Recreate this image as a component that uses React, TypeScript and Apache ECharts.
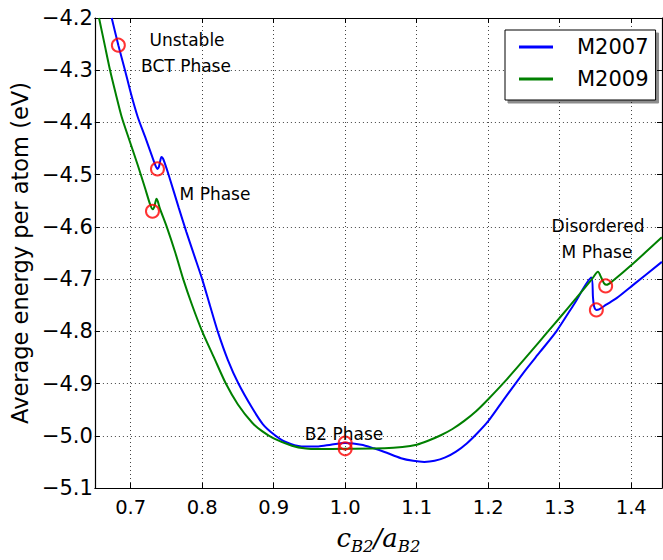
import React, { useEffect, useRef } from "react";
import * as echarts from "echarts";

// c/a ratio vs. average energy per atom (eV)
const m2007: [number, number][] = [
  [0.6735, -4.2], [0.6828, -4.252], [0.6921, -4.3], [0.7005, -4.345], [0.7098, -4.389],
  [0.7209, -4.43], [0.7326, -4.475], [0.7355, -4.485], [0.7375, -4.489], [0.7395, -4.485],
  [0.7413, -4.474], [0.743, -4.466], [0.7452, -4.469], [0.7477, -4.478], [0.7535, -4.502],
  [0.7674, -4.564], [0.778, -4.61], [0.789, -4.655], [0.8, -4.7], [0.8108, -4.75],
  [0.8217, -4.8], [0.836, -4.855], [0.8507, -4.9], [0.87, -4.947], [0.885, -4.978],
  [0.9, -4.997], [0.916, -5.0115], [0.939, -5.0205], [0.9625, -5.0205], [0.98, -5.017],
  [1.0, -5.014], [1.0227, -5.017], [1.04, -5.024], [1.055, -5.031], [1.078, -5.043],
  [1.095, -5.048], [1.1106, -5.05], [1.125, -5.048], [1.14, -5.0414], [1.155, -5.0303],
  [1.17, -5.0147], [1.185, -4.9947], [1.2, -4.972], [1.22, -4.934], [1.25, -4.878],
  [1.2721, -4.84], [1.2953, -4.8], [1.32, -4.748], [1.3442, -4.697], [1.3465, -4.735],
  [1.348, -4.752], [1.3512, -4.759], [1.355, -4.758], [1.365, -4.749], [1.38, -4.736],
  [1.4023, -4.7115], [1.4428, -4.667],
];

const m2009: [number, number][] = [
  [0.6558, -4.2], [0.6635, -4.25], [0.6712, -4.3], [0.679, -4.344], [0.6874, -4.389],
  [0.6985, -4.435], [0.71, -4.482], [0.72, -4.525], [0.727, -4.556], [0.7306, -4.566],
  [0.733, -4.562], [0.7361, -4.546], [0.738, -4.551], [0.7407, -4.564], [0.7505, -4.6],
  [0.7626, -4.65], [0.7735, -4.7], [0.786, -4.75], [0.8, -4.8], [0.8165, -4.85],
  [0.8331, -4.9], [0.85, -4.94], [0.87, -4.975], [0.8838, -4.991], [0.9, -5.005],
  [0.9255, -5.019], [0.945, -5.0245], [0.9625, -5.0255], [1.0, -5.025], [1.055, -5.024],
  [1.08, -5.0215], [1.1, -5.017], [1.115, -5.01], [1.1337, -4.999], [1.15, -4.987],
  [1.166, -4.972], [1.183, -4.953], [1.2, -4.93], [1.226, -4.892], [1.259, -4.84],
  [1.2842, -4.799], [1.3, -4.774], [1.3233, -4.736], [1.345, -4.7], [1.3535, -4.686],
  [1.358, -4.697], [1.362, -4.708], [1.3655, -4.711], [1.3744, -4.703], [1.4023, -4.6706],
  [1.4428, -4.62],
];

const m2007Phases: [number, number][] = [[0.6828, -4.252], [0.7375, -4.489], [1.0, -5.014], [1.3512, -4.759]];
const m2009Phases: [number, number][] = [[0.7305, -4.57], [1.0, -5.025], [1.3642, -4.713]];

const seriesNames = ["M2007", "M2009"];
const seriesColors = ["#0000ff", "#008000"];

const xMin = 0.65;
const xMax = 1.443;
const yMin = -5.1;
const yMax = -4.2;

const FONT = "DejaVu Sans";

const xLabel = (v: number) => {
  const r = Math.round(v * 10) / 10;
  if (Math.abs(v - r) > 1e-6) return "";
  return r.toFixed(1);
};
const yLabel = (v: number) => v.toFixed(1).replace("-", "\u2212");

export default function App() {
  const ref = useRef<HTMLDivElement>(null);
  useEffect(() => {
    if (!ref.current) return;
    const chart = echarts.init(ref.current, undefined, { renderer: "svg" });
    const tick = { show: true, inside: true, length: 5, lineStyle: { color: "#000", width: 1 } };
    const grid = { show: true, lineStyle: { color: "#444", width: 1, type: [1, 3] as any } };
    const axisLine = { show: true, onZero: false, lineStyle: { color: "#000", width: 1.2 } };
    const text = (t: string, x: number, y: number) => ({
      type: "text",
      x,
      y,
      style: { text: t, fontSize: 17, fontFamily: FONT, fill: "#000", align: "center", verticalAlign: "middle" },
      z: 100,
    });
    chart.setOption({
      animation: false,
      backgroundColor: "#fff",
      grid: { left: 92, right: 1, top: 18, bottom: 62, containLabel: false },
      legend: {
        data: seriesNames,
        orient: "vertical",
        left: 505,
        top: 30,
        icon: "rect",
        itemWidth: 34,
        itemHeight: 3,
        itemGap: 10,
        padding: [6, 7, 10, 14],
        backgroundColor: "#fff",
        borderColor: "#000",
        borderWidth: 1,
        shadowColor: "rgba(0,0,0,0.45)",
        shadowBlur: 0,
        shadowOffsetX: 3,
        shadowOffsetY: 3,
        textStyle: { fontSize: 21, fontFamily: FONT, color: "#000", lineHeight: 22, padding: [0, 0, 0, 19] },
      },
      xAxis: [
        {
          type: "value",
          min: xMin,
          max: xMax,
          minInterval: 0.1,
          maxInterval: 0.1,
          position: "bottom",
          axisLine,
          axisTick: tick,
          splitLine: grid,
          axisLabel: { formatter: xLabel, fontSize: 19.5, fontFamily: FONT, color: "#000", margin: 9, showMinLabel: false, showMaxLabel: false },
          name: "{i|c}{s|B2}{i|/a}{s|B2}",
          nameLocation: "middle",
          nameGap: 33,
          nameTextStyle: {
            rich: {
              i: { fontFamily: "DejaVu Serif", fontStyle: "italic", fontSize: 26, lineHeight: 34, verticalAlign: "middle", color: "#000" },
              s: { fontFamily: "DejaVu Serif", fontStyle: "italic", fontSize: 16.5, lineHeight: 34, verticalAlign: "bottom", color: "#000" },
            },
          },
        },
        {
          type: "value",
          min: xMin,
          max: xMax,
          minInterval: 0.1,
          maxInterval: 0.1,
          position: "top",
          axisLine,
          axisTick: tick,
          splitLine: { show: false },
          axisLabel: { show: false },
        },
      ],
      yAxis: [
        {
          type: "value",
          min: yMin,
          max: yMax,
          interval: 0.1,
          position: "left",
          axisLine,
          axisTick: tick,
          splitLine: grid,
          axisLabel: { formatter: yLabel, fontSize: 21, fontFamily: FONT, color: "#000", margin: 2 },
          name: "Average energy per atom (eV)",
          nameLocation: "middle",
          nameRotate: 90,
          nameGap: 61,
          nameTextStyle: { fontSize: 22.5, fontFamily: FONT, color: "#000" },
        },
        {
          type: "value",
          min: yMin,
          max: yMax,
          interval: 0.1,
          position: "right",
          axisLine,
          axisTick: tick,
          splitLine: { show: false },
          axisLabel: { show: false },
        },
      ],
      series: [
        {
          name: seriesNames[0],
          type: "line",
          data: m2007,
          showSymbol: false,
          smooth: 0.25,
          lineStyle: { color: seriesColors[0], width: 2 },
          itemStyle: { color: seriesColors[0] },
          z: 3,
        },
        {
          name: seriesNames[1],
          type: "line",
          data: m2009,
          showSymbol: false,
          smooth: 0.25,
          lineStyle: { color: seriesColors[1], width: 2 },
          itemStyle: { color: seriesColors[1] },
          z: 4,
        },
        {
          name: "M2007 phases",
          type: "scatter",
          data: m2007Phases,
          symbol: "circle",
          symbolSize: 13,
          itemStyle: { color: "rgba(0,0,0,0)", borderColor: "#ff0000", borderWidth: 2 },
          z: 6,
        },
        {
          name: "M2009 phases",
          type: "scatter",
          data: m2009Phases,
          symbol: "circle",
          symbolSize: 13,
          itemStyle: { color: "rgba(0,0,0,0)", borderColor: "#ff0000", borderWidth: 2 },
          z: 6,
        },
      ],
      graphic: [
        text("Unstable", 187, 40),
        text("BCT Phase", 186, 66),
        text("M Phase", 215, 194),
        text("B2 Phase", 344, 434),
        text("Disordered", 598, 226),
        text("M Phase", 597, 252),
      ],
    });
    return () => chart.dispose();
  }, []);
  return <div ref={ref} style={{ position: "fixed", left: 0, top: 0, width: 663, height: 560 }} />;
}
